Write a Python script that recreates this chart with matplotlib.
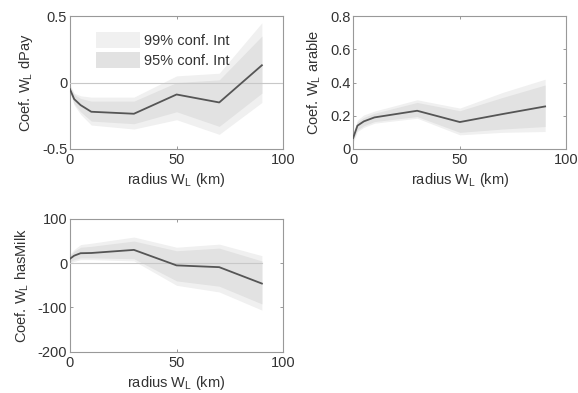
import numpy as np
import matplotlib.pyplot as plt

# radii (km) at which the coefficients were estimated
radius = [0, 2, 5, 10, 30, 50, 70, 90]

# dPay
dpay = [-0.05, -0.125, -0.17, -0.22, -0.235, -0.09, -0.15, 0.13]
dpay_95_lo = [-0.07, -0.16, -0.22, -0.29, -0.31, -0.22, -0.33, -0.08]
dpay_95_hi = [-0.03, -0.09, -0.12, -0.14, -0.14, 0.00, 0.02, 0.35]
dpay_99_lo = [-0.08, -0.17, -0.24, -0.32, -0.35, -0.28, -0.39, -0.15]
dpay_99_hi = [-0.02, -0.08, -0.10, -0.11, -0.11, 0.05, 0.07, 0.45]

# arable
arable = [0.066, 0.14, 0.166, 0.19, 0.23, 0.162, 0.21, 0.256]
arable_95_lo = [0.05, 0.115, 0.14, 0.165, 0.195, 0.10, 0.12, 0.135]
arable_95_hi = [0.085, 0.165, 0.19, 0.215, 0.28, 0.23, 0.31, 0.385]
arable_99_lo = [0.04, 0.105, 0.13, 0.155, 0.185, 0.085, 0.10, 0.105]
arable_99_hi = [0.095, 0.175, 0.205, 0.228, 0.296, 0.246, 0.34, 0.42]

# hasMilk
milk = [10, 17, 22.5, 23, 30, -5, -9, -46]
milk_95_lo = [3, 8, 12, 12, 10, -40, -52, -92]
milk_95_hi = [17, 27, 36, 38, 50, 28, 34, 5]
milk_99_lo = [0, 4, 8, 8, 5, -50, -65, -106]
milk_99_hi = [20, 31, 42, 45, 59, 36, 43, 17]

C99 = "#f0f0f0"
C95 = "#e2e2e2"
LINE = "#555555"
TXT = "#333333"
FS = 10.5

plt.rcParams["font.family"] = ["Liberation Sans", "DejaVu Sans"]
fig = plt.figure(figsize=(5.78, 3.93), dpi=100)

w, h = 0.369, 0.338
ax1 = fig.add_axes([0.121, 0.621, w, h])
ax2 = fig.add_axes([0.611, 0.621, w, h])
ax3 = fig.add_axes([0.121, 0.105, w, h])


def panel(ax, y, lo95, hi95, lo99, hi99, ylim, yticks, ylabel, zero_full):
    f99 = ax.fill_between(radius, lo99, hi99, color=C99, lw=0, zorder=1)
    f95 = ax.fill_between(radius, lo95, hi95, color=C95, lw=0, zorder=2)
    if zero_full is not None:
        xmax = 100 if zero_full else radius[-1]
        ax.plot([0, xmax], [0, 0], color="#c8c8c8", lw=0.8, zorder=3)
    ax.plot(radius, y, color=LINE, lw=1.3, zorder=4)
    ax.set_xlim(0, 100)
    ax.set_ylim(*ylim)
    ax.set_xticks([0, 50, 100])
    ax.set_yticks(yticks)
    ax.set_yticklabels([f"{t:g}" for t in yticks])
    ax.tick_params(direction="in", length=2.5, width=0.6, top=True, right=True,
                   labelsize=FS, labelcolor=TXT, color="#888888", pad=2)
    ax.tick_params(axis="x", pad=3)
    for s in ax.spines.values():
        s.set_color("#999999")
        s.set_linewidth(0.8)
    ax.set_xlabel(r"radius W$_\mathregular{L}$ (km)", fontsize=FS, color=TXT, labelpad=3)
    ax.set_ylabel(ylabel, fontsize=FS, color=TXT, labelpad=5)
    return f99, f95


f99, f95 = panel(ax1, dpay, dpay_95_lo, dpay_95_hi, dpay_99_lo, dpay_99_hi,
                 (-0.5, 0.5), [-0.5, 0, 0.5], r"Coef. W$_\mathregular{L}$ dPay", True)
panel(ax2, arable, arable_95_lo, arable_95_hi, arable_99_lo, arable_99_hi,
      (0, 0.8), [0, 0.2, 0.4, 0.6, 0.8], r"Coef. W$_\mathregular{L}$ arable", None)
panel(ax3, milk, milk_95_lo, milk_95_hi, milk_99_lo, milk_99_hi,
      (-200, 100), [-200, -100, 0, 100], r"Coef. W$_\mathregular{L}$ hasMilk", False)

leg = ax1.legend([f99, f95], ["99% conf. Int", "95% conf. Int"], loc="upper left",
                 bbox_to_anchor=(0.06, 0.98), frameon=False, fontsize=FS,
                 handlelength=3.0, handleheight=1.3, handletextpad=0.3,
                 labelspacing=0.3)
for t in leg.get_texts():
    t.set_color(TXT)

fig.savefig("out.png", dpi=100)
